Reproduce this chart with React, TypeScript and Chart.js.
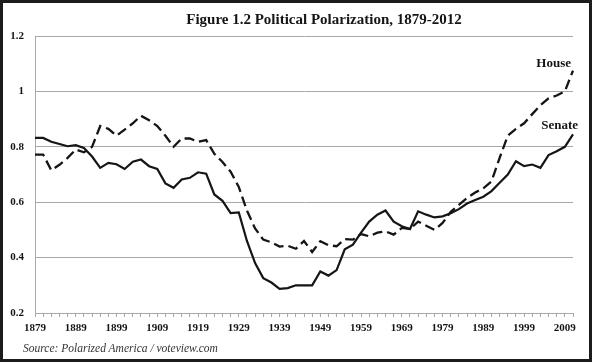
import React, { useEffect, useRef } from "react";
import { Chart, registerables } from "chart.js";

Chart.register(...registerables);

const TITLE = "Figure 1.2 Political Polarization, 1879-2012";
const SOURCE = "Source: Polarized America / voteview.com";

// One point per Congress (every two years), 1879-2011
const years: string[] = [
  "1879", "1881", "1883", "1885", "1887", "1889", "1891", "1893", "1895", "1897",
  "1899", "1901", "1903", "1905", "1907", "1909", "1911", "1913", "1915", "1917",
  "1919", "1921", "1923", "1925", "1927", "1929", "1931", "1933", "1935", "1937",
  "1939", "1941", "1943", "1945", "1947", "1949", "1951", "1953", "1955", "1957",
  "1959", "1961", "1963", "1965", "1967", "1969", "1971", "1973", "1975", "1977",
  "1979", "1981", "1983", "1985", "1987", "1989", "1991", "1993", "1995", "1997",
  "1999", "2001", "2003", "2005", "2007", "2009", "2011",
];

const house: number[] = [
  0.772, 0.772, 0.715, 0.735, 0.76, 0.79, 0.78, 0.8, 0.875, 0.865,
  0.84, 0.862, 0.885, 0.912, 0.896, 0.875, 0.84, 0.8, 0.83, 0.83,
  0.818, 0.824, 0.775, 0.745, 0.71, 0.655, 0.57, 0.505, 0.465, 0.455,
  0.44, 0.443, 0.432, 0.46, 0.42, 0.459, 0.445, 0.441, 0.467, 0.465,
  0.485, 0.477, 0.49, 0.495, 0.483, 0.507, 0.503, 0.53, 0.515, 0.5,
  0.525, 0.565, 0.59, 0.615, 0.635, 0.65, 0.675, 0.76, 0.84, 0.865,
  0.885, 0.918, 0.95, 0.975, 0.985, 1.0, 1.075,
];

const senate: number[] = [
  0.832, 0.832, 0.818, 0.81, 0.802, 0.806, 0.796, 0.765, 0.724, 0.742,
  0.737, 0.72, 0.746, 0.754, 0.73, 0.72, 0.668, 0.652, 0.682, 0.688,
  0.708, 0.703, 0.628, 0.605, 0.561, 0.563, 0.46, 0.38, 0.326, 0.31,
  0.287, 0.29, 0.3, 0.3, 0.3, 0.35, 0.335, 0.355, 0.43, 0.447,
  0.49, 0.53, 0.555, 0.57, 0.53, 0.513, 0.503, 0.567, 0.555, 0.545,
  0.549, 0.56, 0.575, 0.595, 0.608, 0.62, 0.64, 0.67, 0.7, 0.748,
  0.73, 0.736, 0.724, 0.77, 0.784, 0.8, 0.845,
];

const seriesNames: string[] = ["House", "Senate"];

const SERIF = "'Liberation Serif', 'Times New Roman', serif";
const GRID = "#a9a9a9";
const INK = "#151515";

const endLabels = {
  id: "endLabels",
  afterDatasetsDraw(chart: any) {
    const ctx = chart.ctx;
    ctx.save();
    ctx.font = `bold 13px ${SERIF}`;
    ctx.fillStyle = INK;
    ctx.textAlign = "right";
    ctx.textBaseline = "alphabetic";
    chart.data.datasets.forEach((ds: any, i: number) => {
      const meta = chart.getDatasetMeta(i);
      const pt = meta.data[meta.data.length - 1];
      if (!pt) return;
      if (i === 0) ctx.fillText(ds.label, pt.x - 2, pt.y - 4);
      else ctx.fillText(ds.label, pt.x + 5, pt.y - 5);
    });
    ctx.restore();
  },
};

export default function App() {
  const canvasRef = useRef<HTMLCanvasElement | null>(null);

  useEffect(() => {
    if (!canvasRef.current) return;
    const chart = new Chart(canvasRef.current, {
      type: "line",
      data: {
        labels: years,
        datasets: [
          {
            label: seriesNames[0],
            data: house,
            borderColor: INK,
            borderWidth: 2.3,
            borderDash: [10, 5],
            pointRadius: 0,
            tension: 0,
            fill: false,
          },
          {
            label: seriesNames[1],
            data: senate,
            borderColor: INK,
            borderWidth: 2.2,
            pointRadius: 0,
            tension: 0,
            fill: false,
          },
        ],
      },
      options: {
        animation: false,
        responsive: false,
        maintainAspectRatio: false,
        layout: { padding: { left: 0, right: 19, top: 36, bottom: 0 } },
        plugins: {
          legend: { display: false },
          title: { display: false },
          tooltip: { enabled: false },
        },
        scales: {
          x: {
            type: "category",
            offset: false,
            afterFit: (s: any) => {
              s.height = 49;
            },
            grid: {
              drawOnChartArea: false,
              drawTicks: true,
              tickLength: 4,
              color: GRID,
            },
            border: { display: true, color: GRID, width: 1 },
            ticks: {
              autoSkip: false,
              maxRotation: 0,
              minRotation: 0,
              padding: 5,
              color: INK,
              font: { family: SERIF, size: 11, weight: "bold" },
              callback: (_v: any, i: number) => (i % 5 === 0 ? years[i] : ""),
            },
          },
          y: {
            min: 0.2,
            max: 1.2,
            afterFit: (s: any) => {
              s.width = 35;
            },
            grid: { color: GRID, drawTicks: false, lineWidth: 1 },
            border: { display: true, color: GRID, width: 1 },
            ticks: {
              stepSize: 0.2,
              padding: 11,
              color: INK,
              font: { family: SERIF, size: 11, weight: "bold" },
              callback: (v: any) => String(Math.round(Number(v) * 10) / 10),
            },
          },
        },
      },
      plugins: [endLabels],
    });
    return () => chart.destroy();
  }, []);

  return (
    <div style={{ position: "absolute", left: 0, top: 0, width: 592, height: 362, background: "#fff" }}>
      <canvas ref={canvasRef} width={592} height={362} style={{ position: "absolute", left: 0, top: 0, width: 592, height: 362 }} />
      <div
        style={{
          position: "absolute",
          left: 56,
          top: 12,
          width: 536,
          textAlign: "center",
          fontFamily: SERIF,
          fontWeight: "bold",
          fontSize: 15,
          lineHeight: "15px",
          color: INK,
          whiteSpace: "nowrap",
        }}
      >
        {TITLE}
      </div>
      <div
        style={{
          position: "absolute",
          left: 23,
          top: 342,
          fontFamily: SERIF,
          fontStyle: "italic",
          fontSize: 11.5,
          lineHeight: "12px",
          color: "#333",
          whiteSpace: "nowrap",
        }}
      >
        {SOURCE}
      </div>
      <div
        style={{
          position: "absolute",
          left: 0,
          top: 0,
          width: 592,
          height: 362,
          boxSizing: "border-box",
          border: "3px solid #1c1c1c",
          pointerEvents: "none",
        }}
      />
    </div>
  );
}
